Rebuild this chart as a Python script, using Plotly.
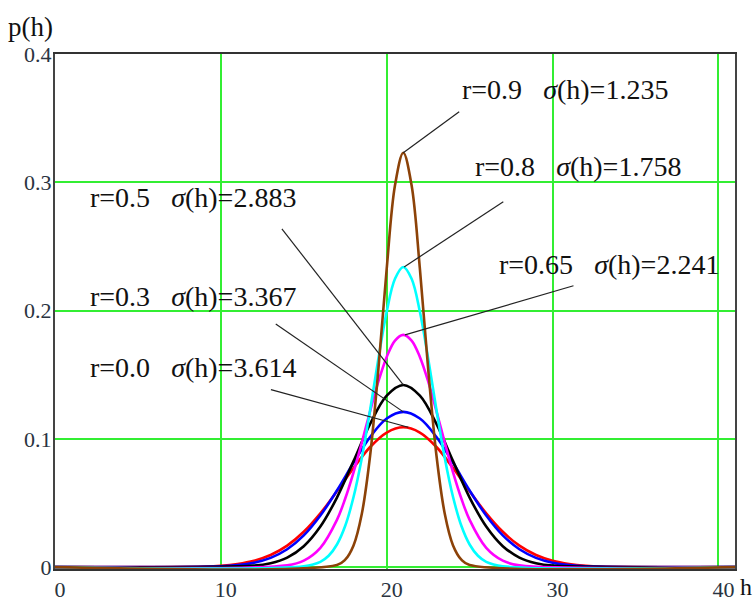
import plotly.graph_objects as go

# ---- data ----
red_x = [0] + list(range(9, 34)) + [41]
red_y = [0, .0004, .0010, .0024, .0049, .0094, .0167, .0275, .0419, .0591, .0772, .0936, .1049, .109,
         .1049, .0936, .0772, .0591, .0419, .0275, .0167, .0094, .0049, .0024, .0010, .0004, 0]

blue_x = [0] + list(range(10, 33)) + [41]
blue_y = [0, .0006, .0015, .0034, .0072, .0139, .0247, .0402, .0597, .0813, .1014, .1158, .121,
          .1158, .1014, .0813, .0597, .0402, .0247, .0139, .0072, .0034, .0015, .0006, 0]

black_x = [0] + list(range(12, 31)) + [41]
black_y = [0, .0011, .0030, .0074, .0163, .0316, .0542, .0826, .1116, .1337, .142,
           .1337, .1116, .0826, .0542, .0316, .0163, .0074, .0030, .0011, 0]

magenta_x = [0, 14, 15, 16, 17, 17.5, 18, 18.5, 19, 19.5, 20, 20.5, 21, 21.5, 22, 22.5, 23, 23.5,
             24, 24.5, 25, 26, 27, 28, 41]
magenta_y = [0, .0014, .0050, .0150, .0368, .0535, .0739, .0971, .1215, .1447, .1638, .1766, .181,
             .1766, .1638, .1447, .1215, .0971, .0739, .0535, .0368, .0150, .0050, .0014, 0]

cyan_x = [0, 15, 16, 16.5, 17, 17.5, 18, 18.5, 19, 19.5, 20, 20.5, 21, 21.5, 22, 22.5, 23, 23.5,
          24, 24.5, 25, 25.5, 26, 27, 41]
cyan_y = [0, .0007, .0041, .0088, .0176, .0322, .0546, .0851, .1225, .1626, .1991, .2248, .234,
          .2248, .1991, .1626, .1225, .0851, .0546, .0322, .0176, .0088, .0041, .0007, 0]

brown_x = [0, 17, 17.5, 18, 18.5, 19, 19.5, 20, 20.5, 21, 21.5, 22, 22.5, 23, 23.5, 24, 24.5, 25, 41]
brown_y = [0, .0017, .0058, .0169, .0416, .0870, .1545, .2327, .2976, .323,
           .2976, .2327, .1545, .0870, .0416, .0169, .0058, .0017, 0]

labels = ["r=0.0\u00a0\u00a0\u00a0<i>σ</i>(h)=3.614",
          "r=0.3\u00a0\u00a0\u00a0<i>σ</i>(h)=3.367",
          "r=0.5\u00a0\u00a0\u00a0<i>σ</i>(h)=2.883",
          "r=0.65\u00a0\u00a0\u00a0<i>σ</i>(h)=2.241",
          "r=0.8\u00a0\u00a0\u00a0<i>σ</i>(h)=1.758",
          "r=0.9\u00a0\u00a0\u00a0<i>σ</i>(h)=1.235"]
label_pos = [(1.97, 0.1554), (1.97, 0.2108), (1.97, 0.2879), (26.67, 0.2357), (25.22, 0.3121), (24.43, 0.3725)]
leader_start = [(13.02, 0.1383), (13.31, 0.1895), (13.68, 0.2637), (31.26, 0.2193), (27.03, 0.2848), (24.37, 0.355)]
leader_end = [(21.3, 0.109), (21.0, 0.121), (21.0, 0.142), (21.1, 0.181), (21.05, 0.234), (21.0, 0.323)]

x_ticks = [0, 10, 20, 30, 40]
y_ticks = [0, 0.1, 0.2, 0.3, 0.4]
y_tick_text = ["0", "0.1", "0.2", "0.3", "0.4"]

series = [(red_x, red_y, "#ff0000"), (blue_x, blue_y, "#0000ff"), (black_x, black_y, "#000000"),
          (magenta_x, magenta_y, "#ff00ff"), (cyan_x, cyan_y, "#00ffff"), (brown_x, brown_y, "#8c4208")]

fig = go.Figure()
for xs, ys, c in series:
    fig.add_trace(go.Scatter(x=xs, y=ys, mode="lines", line=dict(color=c, width=2.6, shape="spline"),
                             showlegend=False, hoverinfo="skip"))

serif = "Liberation Serif"
for (x0, y0), (x1, y1) in zip(leader_start, leader_end):
    fig.add_shape(type="line", x0=x0, y0=y0, x1=x1, y1=y1, xref="x", yref="y",
                  line=dict(color="#222222", width=1.2), layer="above")
for txt, (x, y) in zip(labels, label_pos):
    fig.add_annotation(x=x, y=y, xref="x", yref="y", text=txt, showarrow=False,
                       xanchor="left", yanchor="middle", font=dict(family=serif, size=28, color="#111111"))

fig.add_annotation(x=1.016, y=-0.0343, xref="paper", yref="paper", text="h", showarrow=False,
                   xanchor="center", yanchor="middle", font=dict(family=serif, size=24, color="#111111"))
fig.add_annotation(x=-0.0353, y=1.0524, xref="paper", yref="paper", text="p(h)", showarrow=False,
                   xanchor="center", yanchor="middle", font=dict(family=serif, size=27, color="#111111"))

fig.update_layout(
    width=756, height=601,
    margin=dict(l=55, r=21, t=54, b=32, autoexpand=False),
    paper_bgcolor="white", plot_bgcolor="white",
    font=dict(family=serif),
    xaxis=dict(range=[0, 41], tickvals=x_ticks, showgrid=True, gridcolor="#33ee33", gridwidth=2,
               zeroline=False, showline=True, mirror=True, linecolor="#333333", linewidth=2,
               ticks="", tickfont=dict(family=serif, size=22, color="#2a3340"), layer="below traces",
               ticklabelshift=5, ticklabelstandoff=0),
    yaxis=dict(range=[-0.0015, 0.4], tickvals=y_ticks, ticktext=y_tick_text, showgrid=True,
               gridcolor="#33ee33", gridwidth=2, zeroline=False, showline=True, mirror=True,
               linecolor="#444444", linewidth=2, ticks="", ticklabelstandoff=-3,
               tickfont=dict(family=serif, size=22, color="#2a3340"), layer="below traces"),
)

fig.write_html("out.html", config={"displayModeBar": False},
               post_script="document.body.style.margin='0px';document.body.style.overflow='hidden';")
